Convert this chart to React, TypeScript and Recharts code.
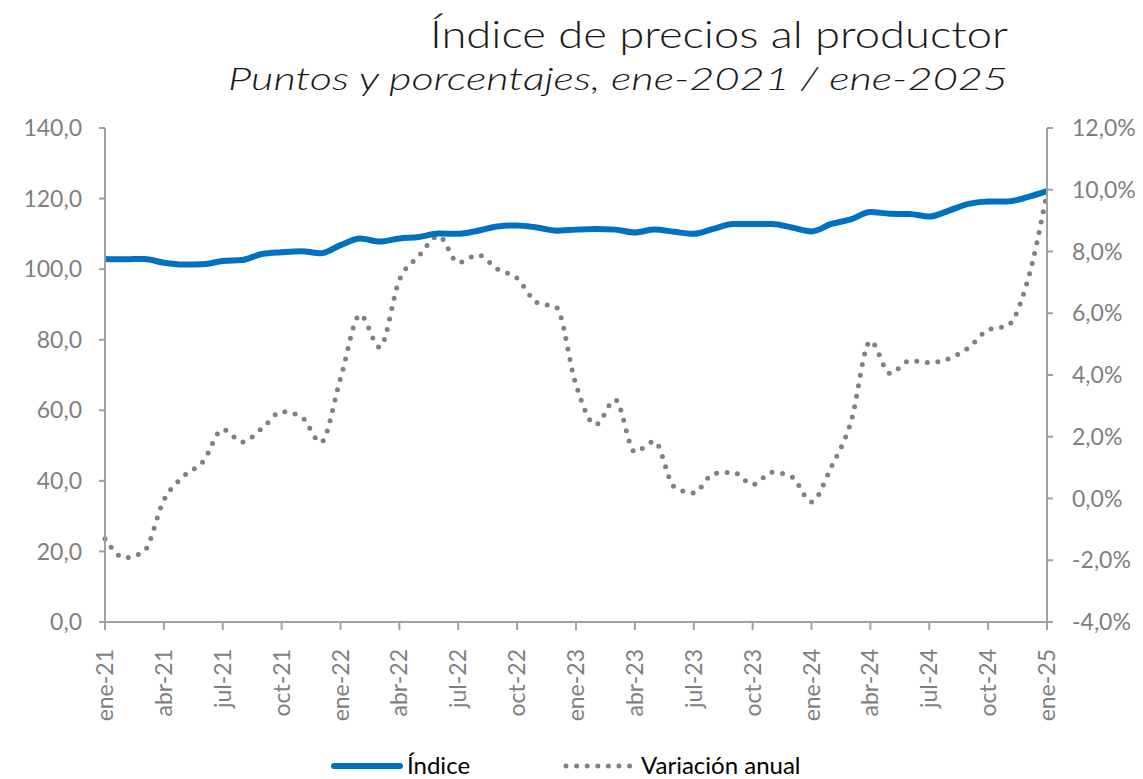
import React from "react";
import { LineChart, Line, XAxis, YAxis, Legend } from "recharts";

const MONTHS = ["ene", "feb", "mar", "abr", "may", "jun", "jul", "ago", "sep", "oct", "nov", "dic"];
const YEARS = ["21", "22", "23", "24"];
const LAST_LABEL = "ene-25";

const INDICE = [
  102.9, 102.8, 102.9, 101.8, 101.3, 101.4, 102.3, 102.6, 104.3, 104.8, 105.1, 104.5,
  106.8, 108.7, 107.8, 108.7, 109.1, 110.1, 110.0, 110.9, 112.1, 112.4, 111.8, 110.9,
  111.2, 111.4, 111.2, 110.4, 111.2, 110.6, 110.0, 111.4, 112.8, 112.8, 112.8, 111.8,
  110.7, 112.8, 114.1, 116.2, 115.7, 115.6, 114.9, 116.6, 118.5, 119.2, 119.2, 120.4,
  122.1,
];

const VARIACION = [
  -1.3, -1.92, -1.7, -0.05, 0.72, 1.2, 2.24, 1.83, 2.27, 2.81, 2.65, 1.82,
  3.89, 5.95, 4.9, 7.08, 7.86, 8.5, 7.64, 7.89, 7.43, 7.13, 6.35, 6.19,
  3.68, 2.39, 3.2, 1.51, 1.85, 0.38, 0.18, 0.8, 0.85, 0.45, 0.85, 0.7,
  -0.11, 1.01, 2.46, 5.1, 4.05, 4.46, 4.4, 4.53, 4.88, 5.46, 5.6, 7.03,
  9.9,
];

const LEFT_TICKS = [0, 20, 40, 60, 80, 100, 120, 140];
const RIGHT_TICKS = [-4, -2, 0, 2, 4, 6, 8, 10, 12];

const LABELS: string[] = [];
YEARS.forEach((y) => MONTHS.forEach((m) => LABELS.push(`${m}-${y}`)));
LABELS.push(LAST_LABEL);

const data = LABELS.map((label, i) => ({
  label,
  indice: INDICE[i],
  variacion: VARIACION[i],
}));

const TICK_COLOR = "#7f7f7f";
const AXIS_COLOR = "#a0a0a0";
const FONT = "Lato, 'Open Sans', sans-serif";

const fmtLeft = (v: number) => v.toFixed(1).replace(".", ",");
const fmtRight = (v: number) => v.toFixed(1).replace(".", ",") + "%";

const XTick = (props: any) => {
  const { x, y, payload } = props;
  return (
    <g transform={`translate(${x},${y})`}>
      <text
        transform="rotate(-90)"
        textAnchor="end"
        dy="0.35em"
        fill={TICK_COLOR}
        fontSize={23}
        fontFamily={FONT}
      >
        {payload.value}
      </text>
    </g>
  );
};

const LegendContent = () => (
  <div style={{ position: "relative", height: 40, width: 1143 }}>
    <svg width={1143} height={40} style={{ position: "absolute", left: 0, top: 0, overflow: "visible" }}>
      <line x1={334} y1={27} x2={400} y2={27} stroke="#0070C0" strokeWidth={6} strokeLinecap="round" />
      <text x={407} y={35} fontSize={24} fontFamily={FONT} fill="#000">Índice</text>
      <line x1={566} y1={27} x2={630} y2={27} stroke="#808080" strokeWidth={5} strokeLinecap="round" strokeDasharray="0 10.6" />
      <text x={641} y={35} fontSize={24} fontFamily={FONT} fill="#000">Variación anual</text>
    </svg>
  </div>
);

export default function App() {
  return (
    <div style={{ position: "absolute", left: 0, top: 0, width: 1143, height: 779, background: "#fff" }}>
      <svg width={1143} height={110} style={{ position: "absolute", left: 0, top: 0 }}>
        <text
          x={1008}
          y={48}
          textAnchor="end"
          fontSize={38}
          fontWeight={300}
          fontFamily={FONT}
          fill="#1a1a1a"
          textLength={578}
          lengthAdjust="spacingAndGlyphs"
        >
          Índice de precios al productor
        </text>
        <text
          x={1008}
          y={90}
          textAnchor="end"
          fontSize={32}
          fontStyle="italic"
          fontWeight={300}
          fontFamily={FONT}
          fill="#1a1a1a"
          textLength={780}
          lengthAdjust="spacingAndGlyphs"
        >
          Puntos y porcentajes, ene-2021 / ene-2025
        </text>
      </svg>
      <div style={{ position: "absolute", left: 0, top: 0 }}>
        <LineChart
          width={1143}
          height={779}
          data={data}
          margin={{ top: 128, right: 0, bottom: 0, left: 0 }}
        >
          <XAxis
            dataKey="label"
            scale="point"
            interval={2}
            height={117}
            tickSize={8}
            tickMargin={19}
            tick={<XTick />}
            axisLine={{ stroke: AXIS_COLOR, strokeWidth: 2 }}
            tickLine={{ stroke: AXIS_COLOR, strokeWidth: 2 }}
          />
          <YAxis
            yAxisId="left"
            orientation="left"
            domain={[0, 140]}
            ticks={LEFT_TICKS}
            width={105}
            tickSize={6}
            tickMargin={17}
            tickFormatter={fmtLeft}
            tick={{ fill: TICK_COLOR, fontSize: 23, fontFamily: FONT }}
            axisLine={{ stroke: AXIS_COLOR, strokeWidth: 2 }}
            tickLine={{ stroke: AXIS_COLOR, strokeWidth: 2 }}
          />
          <YAxis
            yAxisId="right"
            orientation="right"
            domain={[-4, 12]}
            ticks={RIGHT_TICKS}
            width={96}
            tickSize={6}
            tickMargin={19}
            tickFormatter={fmtRight}
            tick={{ fill: TICK_COLOR, fontSize: 23, fontFamily: FONT, textAnchor: "start" }}
            axisLine={{ stroke: AXIS_COLOR, strokeWidth: 2 }}
            tickLine={{ stroke: AXIS_COLOR, strokeWidth: 2 }}
          />
          <Legend
            verticalAlign="bottom"
            height={40}
            content={<LegendContent />}
            wrapperStyle={{ left: 0, width: 1143, height: 40 }}
          />
          <Line
            yAxisId="right"
            type="monotone"
            dataKey="variacion"
            name="Variación anual"
            stroke="#808080"
            strokeWidth={5}
            strokeLinecap="round"
            strokeDasharray="0 10.6"
            dot={false}
            activeDot={false}
            isAnimationActive={false}
          />
          <Line
            yAxisId="left"
            type="monotone"
            dataKey="indice"
            name="Índice"
            stroke="#0070C0"
            strokeWidth={6}
            dot={false}
            activeDot={false}
            isAnimationActive={false}
          />
        </LineChart>
      </div>
    </div>
  );
}
